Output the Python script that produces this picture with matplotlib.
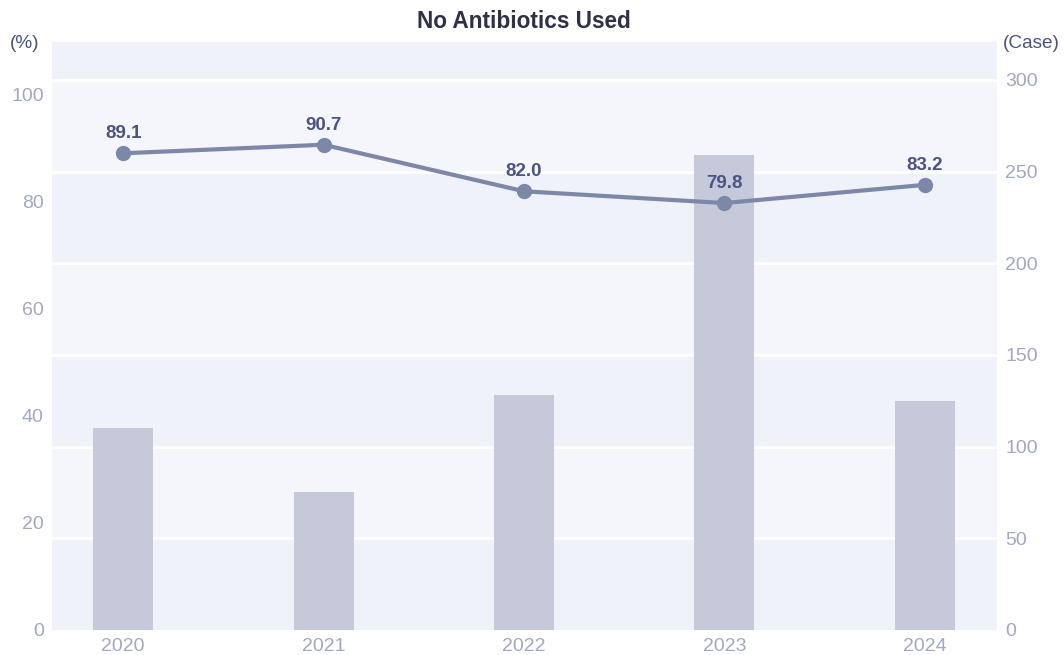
import matplotlib
matplotlib.use("Agg")
import matplotlib.pyplot as plt
import numpy as np

plt.rcParams['font.family'] = ['Liberation Sans', 'DejaVu Sans']

years = ["2020", "2021", "2022", "2023", "2024"]
cases = [110, 75, 128, 259, 125]
pct = [89.1, 90.7, 82.0, 79.8, 83.2]
left_ticks = [0, 20, 40, 60, 80, 100]
right_ticks = [0, 50, 100, 150, 200, 250, 300]

fig = plt.figure(figsize=(10.64, 6.55), dpi=100)
ax1 = fig.add_axes([52/1064, 25/655, 945/1064, 588/655])
ax2 = ax1.twinx()

x = np.arange(len(years))
ax1.set_xlim(-0.355, 4.36)
ax1.set_ylim(0, 320.7)
ax2.set_ylim(0, 109.9)

# background bands
band_edges = right_ticks + [320.7]
for i in range(len(band_edges) - 1):
    col = '#eff2f8' if i % 2 == 0 else '#f5f6fb'
    ax1.axhspan(band_edges[i], band_edges[i + 1], color=col, zorder=0, lw=0)
for t in right_ticks[1:]:
    ax1.axhline(t, color='white', lw=2, zorder=1)

ax1.bar(x, cases, width=0.3, color='#c6c9da', zorder=2)

ax2.plot(x, pct, color='#7d88a9', lw=3, marker='o', markersize=10, zorder=3)
for xi, v in zip(x, pct):
    ax2.annotate(f"{v:.1f}", (xi, v), xytext=(0, 8), textcoords='offset points',
                 ha='center', va='bottom', fontsize=13.5, fontweight='bold', color='#4b5382')

for a in (ax1, ax2):
    for s in a.spines.values():
        s.set_visible(False)
    a.tick_params(length=0, colors='#a3a8c2', labelsize=14)

ax1.set_xticks(x)
ax1.set_xticklabels(years)
ax1.tick_params(axis='x', pad=6)

ax1.yaxis.tick_right()
ax1.set_yticks(right_ticks)
ax1.tick_params(axis='y', pad=6)
ax2.yaxis.tick_left()
ax2.set_yticks(left_ticks)
ax2.tick_params(axis='y', pad=6)

fig.text(524/1064, 1 - 22/655, "No Antibiotics Used", ha='center', va='center',
         fontsize=16.3, fontweight='bold', color='#2e3148')
fig.text(25/1064, 1 - 43/655, "(%)", ha='center', va='center', fontsize=13.7, color='#4b5382')
fig.text(1031/1064, 1 - 43/655, "(Case)", ha='center', va='center', fontsize=13.7, color='#4b5382')

fig.savefig("out.png", dpi=100)
